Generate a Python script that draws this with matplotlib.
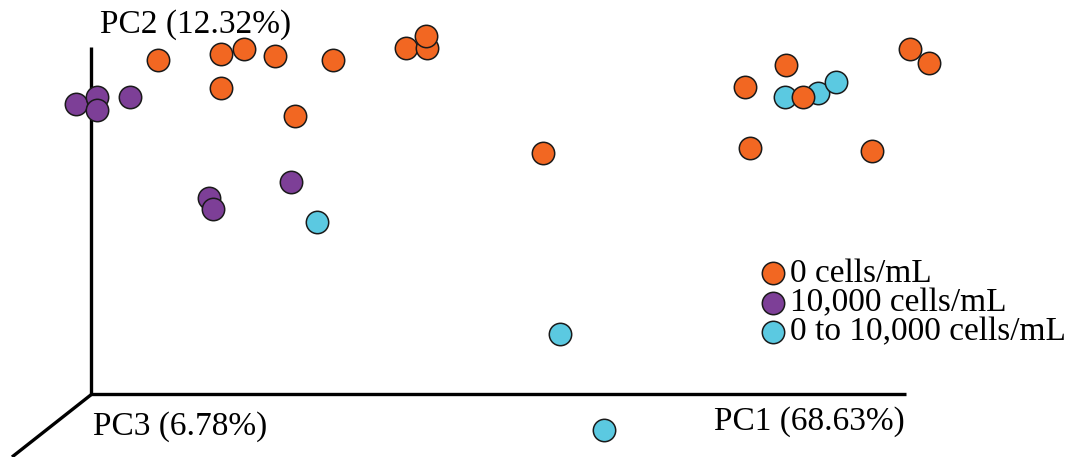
import matplotlib.pyplot as plt

plt.rcParams['font.family'] = ['Liberation Serif', 'DejaVu Serif']

# projected PCoA coordinates (screen-space units of the original figure)
orange_x = [158, 221, 244, 275, 333, 406, 427, 426, 221, 295, 543, 745, 786, 750, 872, 910, 929, 803]
orange_y = [60, 54, 49, 56, 60, 48, 48, 36, 88, 116, 153, 87, 65, 148, 151, 49, 63, 97]
purple_x = [76, 97, 97, 130, 209, 213, 291]
purple_y = [104, 97, 110, 97, 198, 209, 182]
cyan_x = [317, 560, 604, 785, 818, 836]
cyan_y = [222, 334, 430, 97, 93, 82]

labels = ['0 cells/mL', '10,000 cells/mL', '0 to 10,000 cells/mL']
colors = ['#F26722', '#7D3F97', '#5BC9E1']
axis_labels = ['PC1 (68.63%)', 'PC2 (12.32%)', 'PC3 (6.78%)']

fig = plt.figure(figsize=(10.74, 4.57), dpi=100)
ax = fig.add_axes([0, 0, 1, 1])
ax.set_xlim(0, 1074)
ax.set_ylim(457, 0)
ax.axis('off')

# pseudo 3D axes
ax.plot([91, 91], [47, 394], color='black', lw=2.4, solid_capstyle='butt')
ax.plot([90, 906], [394, 394], color='black', lw=2.4, solid_capstyle='butt')
ax.plot([92, 12], [394, 457], color='black', lw=2.4, solid_capstyle='butt')

ms = 260
kw = dict(s=ms, edgecolors='#1a1a1a', linewidths=1.1)
ax.scatter(cyan_x, cyan_y, c=colors[2], label=labels[2], zorder=3, **kw)
ax.scatter(purple_x, purple_y, c=colors[1], label=labels[1], zorder=3, **kw)
ax.scatter(orange_x, orange_y, c=colors[0], label=labels[0], zorder=3, **kw)

fs = 24
ax.text(100, 33, axis_labels[1], fontsize=fs, va='baseline', ha='left')
ax.text(905, 430, axis_labels[0], fontsize=fs, va='baseline', ha='right')
ax.text(93, 435, axis_labels[2], fontsize=fs, va='baseline', ha='left')

h, l = ax.get_legend_handles_labels()
order = [2, 1, 0]
ax.legend([h[i] for i in order], [l[i] for i in order], loc='upper left',
          bbox_to_anchor=(740 / 1074, 1 - 242 / 457), frameon=False, fontsize=fs,
          handletextpad=0.0, labelspacing=-0.04, borderpad=0, handlelength=1.0,
          markerscale=1.0)

fig.savefig('out.png', dpi=100)
